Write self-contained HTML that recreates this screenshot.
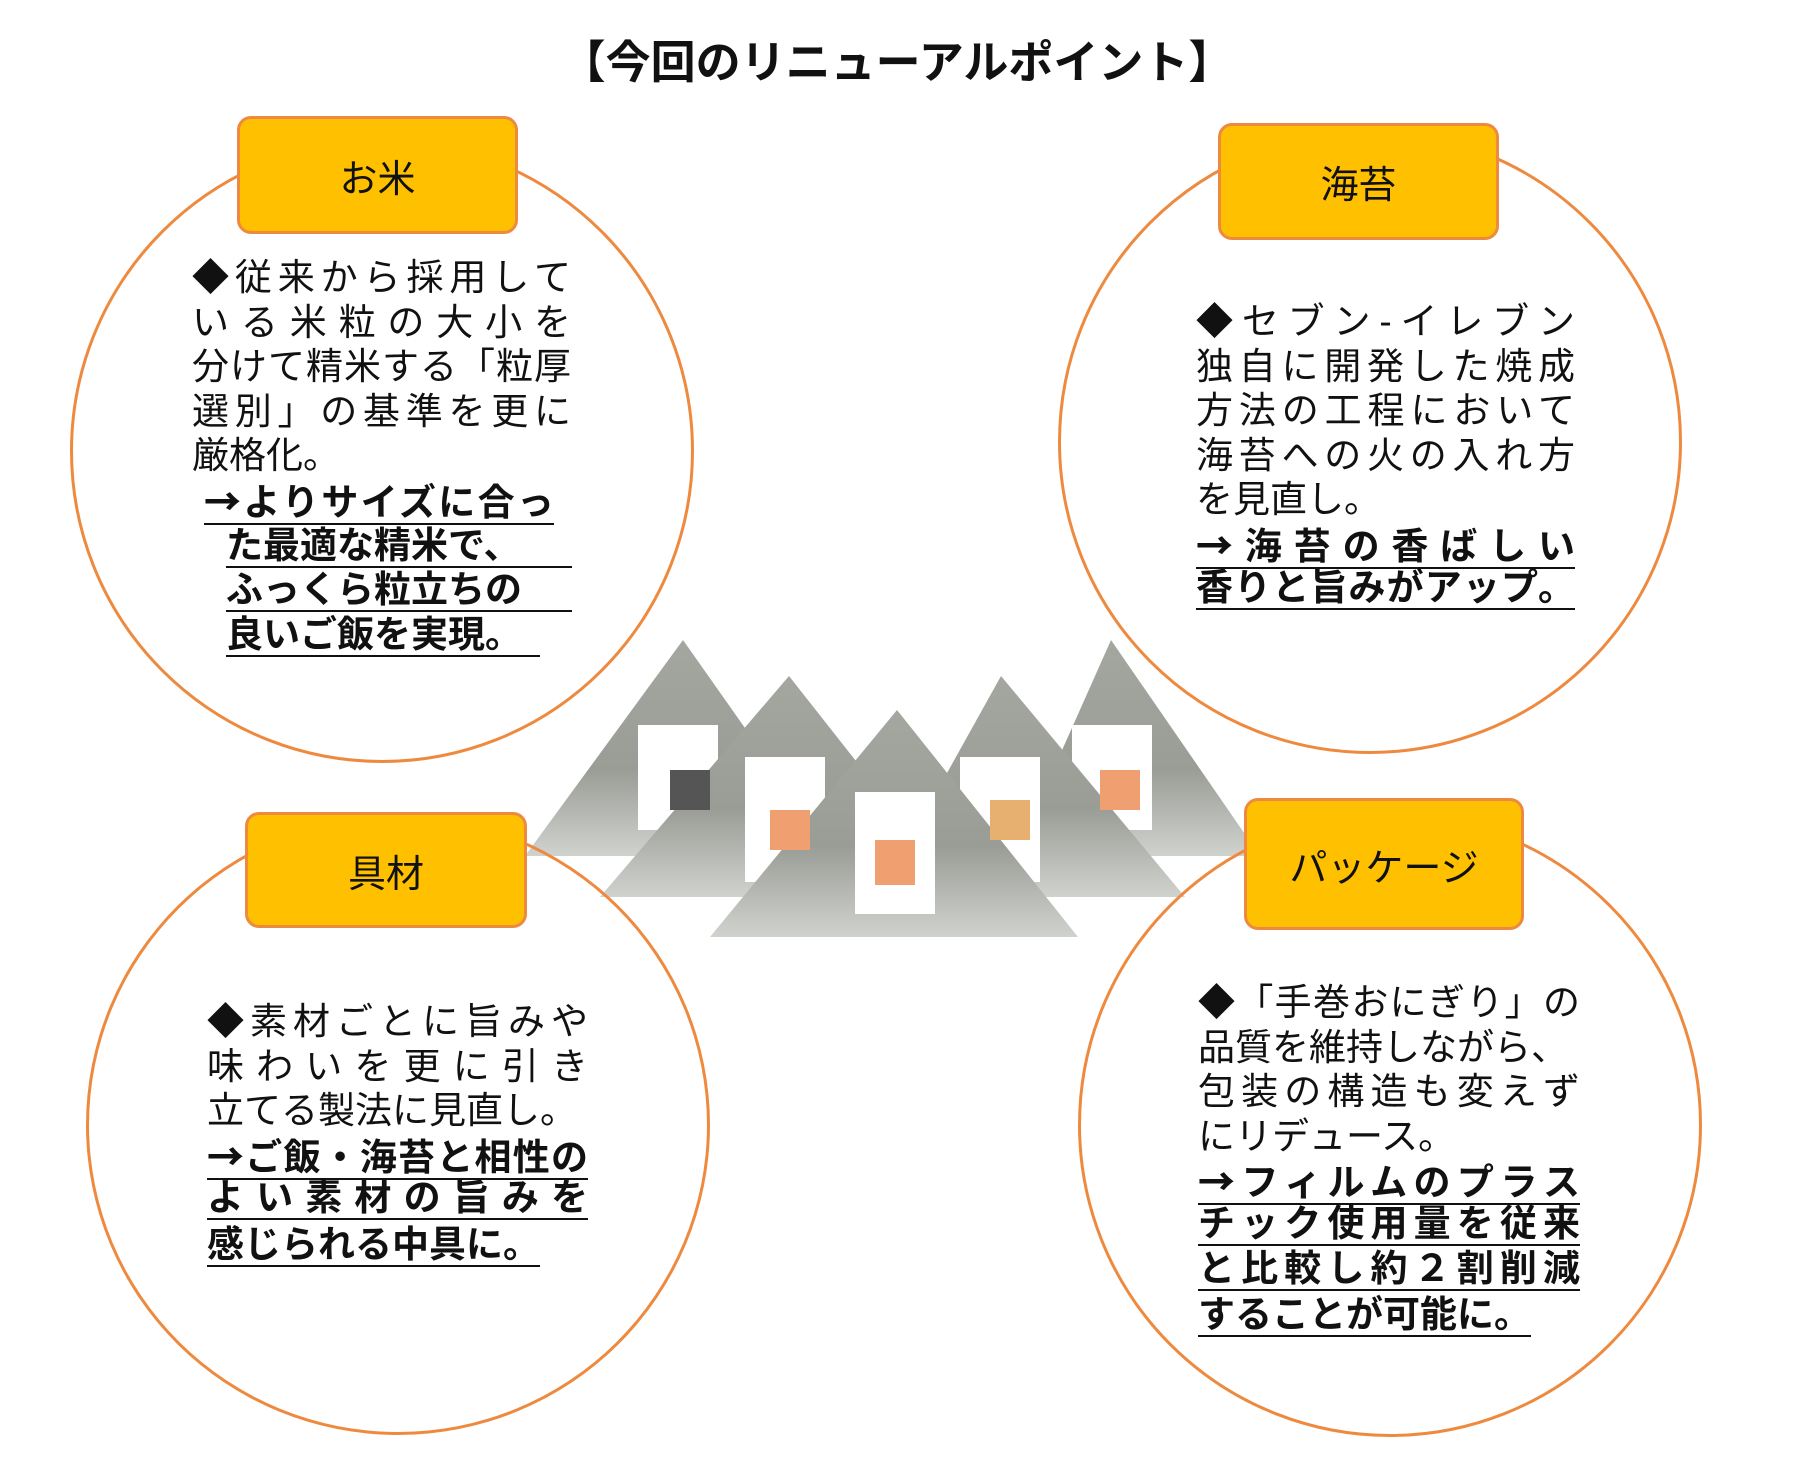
<!DOCTYPE html>
<html><head><meta charset="utf-8"><style>
body{margin:0;width:1794px;height:1473px;background:#fff;position:relative;overflow:hidden;font-family:"Liberation Sans","Noto Sans CJK JP",sans-serif;color:#111}
.title{position:absolute;left:0;width:1794px;top:26px;text-align:center;font-size:45px;font-weight:bold}
.c{position:absolute;border:3px solid #ee8a3f;border-radius:50%;box-sizing:border-box}
.lb{position:absolute;background:#ffc000;border:3px solid #ee8a3f;border-radius:14px;box-sizing:border-box;display:flex;align-items:center;justify-content:center;font-size:38px}
.t{position:absolute;font-size:37px;line-height:44.6px}
.t div{white-space:nowrap;height:44.6px}
.j{text-align:justify;text-align-last:justify}
.u{font-weight:bold}
.u span{border-bottom:2.5px solid #111;display:inline-block;line-height:40px}
.u.j span{display:block}
.a{font-family:"Noto Sans CJK JP",sans-serif}
</style></head><body>
<div class="title">【今回のリニューアルポイント】</div>

<svg style="position:absolute;left:0;top:0" width="1794" height="1473">
<defs><linearGradient id="g" x1="0" y1="0" x2="0" y2="1"><stop offset="0" stop-color="#a4a7a0"/><stop offset="0.6" stop-color="#9a9d96"/><stop offset="1" stop-color="#d0d2ce"/></linearGradient></defs>
<g>
<polygon points="683,640 525,856 835,856" fill="url(#g)"/>
<rect x="638" y="725" width="80" height="105" fill="#fff"/>
<polygon points="1111,640 1015,856 1260,856" fill="url(#g)"/>
<rect x="1072" y="725" width="80" height="105" fill="#fff"/>
<polygon points="789,676 600,897 963,897" fill="url(#g)"/>
<rect x="745" y="757" width="80" height="125" fill="#fff"/>
<polygon points="1001,676 878,897 1185,897" fill="url(#g)"/>
<rect x="960" y="757" width="80" height="125" fill="#fff"/>
<polygon points="897,710 710,937 1078,937" fill="url(#g)"/>
<rect x="855" y="792" width="80" height="122" fill="#fff"/>
<rect x="875" y="840" width="40" height="45" fill="#f0a070"/>
<rect x="770" y="810" width="40" height="40" fill="#f0a070"/>
<rect x="990" y="800" width="40" height="40" fill="#e8b070"/>
<rect x="1100" y="770" width="40" height="40" fill="#f0a070"/>
<rect x="670" y="770" width="40" height="40" fill="#555"/>
</g>
</svg>

<div class="c" style="left:70px;top:139px;width:624px;height:624px"></div>
<div class="c" style="left:1058px;top:130px;width:624px;height:624px"></div>
<div class="c" style="left:86px;top:815px;width:624px;height:620px"></div>
<div class="c" style="left:1078px;top:813px;width:624px;height:624px"></div>

<div class="lb" style="left:237px;top:116px;width:281px;height:118px">お米</div>
<div class="lb" style="left:1218px;top:123px;width:281px;height:117px">海苔</div>
<div class="lb" style="left:245px;top:812px;width:282px;height:116px">具材</div>
<div class="lb" style="left:1244px;top:798px;width:280px;height:132px">パッケージ</div>

<div class="t" style="left:192px;top:256px;width:379px">
<div class="j">◆従来から採用して</div>
<div class="j">いる米粒の大小を</div>
<div class="j">分けて精米する「粒厚</div>
<div class="j">選別」の基準を更に</div>
<div>厳格化。</div>
<div class="u" style="padding-left:12px"><span style="width:350px;text-align:justify;text-align-last:justify"><b class="a">→</b>よりサイズに合っ</span></div>
<div class="u" style="padding-left:34px"><span style="width:346px">た最適な精米で、</span></div>
<div class="u" style="padding-left:34px"><span style="width:346px">ふっくら粒立ちの</span></div>
<div class="u" style="padding-left:34px"><span style="width:314px">良いご飯を実現。</span></div>
</div>

<div class="t" style="left:1196px;top:300px;width:379px">
<div class="j">◆セブン‐イレブン</div>
<div class="j">独自に開発した焼成</div>
<div class="j">方法の工程において</div>
<div class="j">海苔への火の入れ方</div>
<div>を見直し。</div>
<div class="u j"><span><b class="a">→</b>海苔の香ばしい</span></div>
<div class="u j"><span>香りと旨みがアップ。</span></div>
</div>

<div class="t" style="left:207px;top:1000px;width:381px">
<div class="j">◆素材ごとに旨みや</div>
<div class="j">味わいを更に引き</div>
<div>立てる製法に見直し。</div>
<div class="u j"><span><b class="a">→</b>ご飯・海苔と相性の</span></div>
<div class="u j"><span>よい素材の旨みを</span></div>
<div class="u"><span>感じられる中具に。</span></div>
</div>

<div class="t" style="left:1198px;top:981px;width:382px">
<div class="j">◆「手巻おにぎり」の</div>
<div>品質を維持しながら、</div>
<div class="j">包装の構造も変えず</div>
<div>にリデュース。</div>
<div class="u j"><span><b class="a">→</b>フィルムのプラス</span></div>
<div class="u j"><span>チック使用量を従来</span></div>
<div class="u j"><span>と比較し約２割削減</span></div>
<div class="u"><span>することが可能に。</span></div>
</div>
</body></html>
